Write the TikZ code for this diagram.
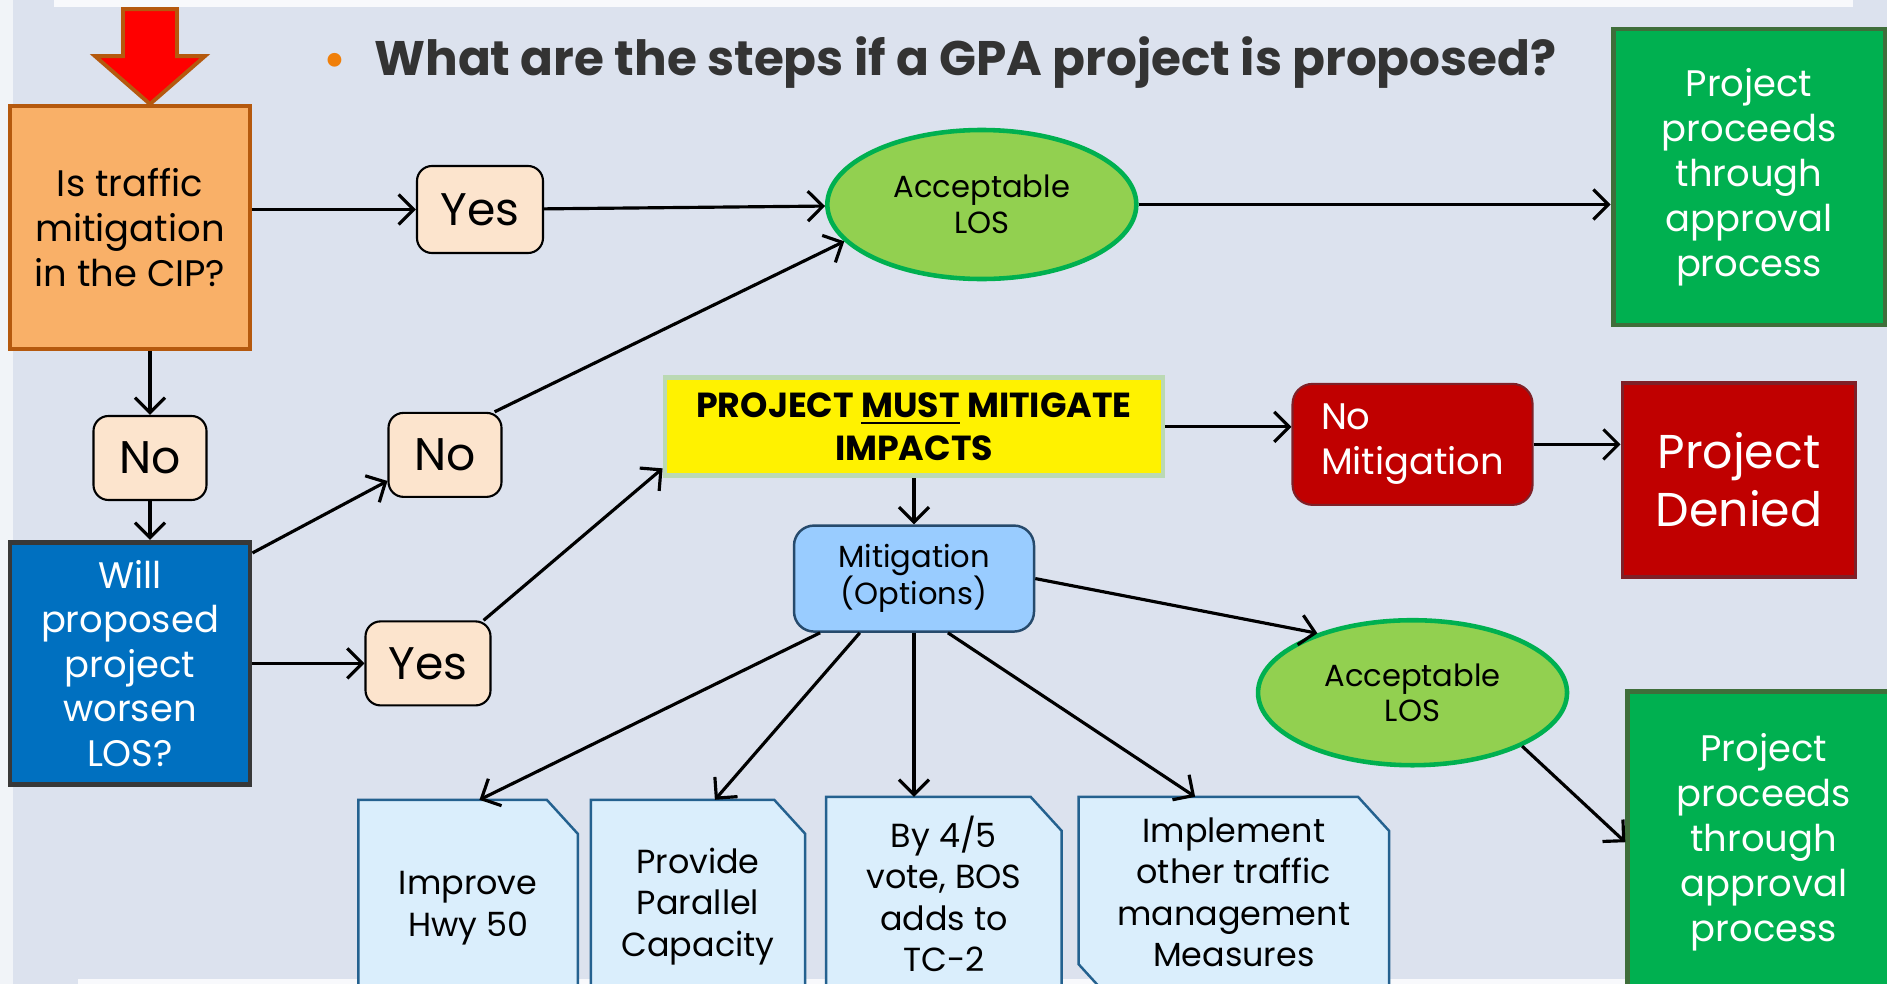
\documentclass[tikz,border=0pt]{standalone}
\usepackage{fontspec}
\setmainfont{Poppins}
\usetikzlibrary{arrows.meta,shapes.geometric,positioning,calc,backgrounds}
\definecolor{slidecolor}{RGB}{220,226,238}
\definecolor{askcolor}{RGB}{249,176,104}
\definecolor{askdraw}{RGB}{181,89,14}
\definecolor{answercolor}{RGB}{252,228,205}
\definecolor{loscolor}{RGB}{146,208,80}
\definecolor{losdraw}{RGB}{0,176,80}
\definecolor{gocolor}{RGB}{0,176,80}
\definecolor{godraw}{RGB}{63,110,58}
\definecolor{worsencolor}{RGB}{0,112,192}
\definecolor{worsendraw}{RGB}{56,56,56}
\definecolor{stopcolor}{RGB}{192,0,0}
\definecolor{stopdraw}{RGB}{127,32,39}
\definecolor{mustdraw}{RGB}{187,217,179}
\definecolor{optioncolor}{RGB}{153,204,255}
\definecolor{optiondraw}{RGB}{38,74,108}
\definecolor{measurecolor}{RGB}{218,238,252}
\definecolor{measuredraw}{RGB}{36,97,143}
\definecolor{titlecolor}{RGB}{51,51,51}
\definecolor{bulletcolor}{RGB}{240,127,9}

\begin{document}
\begin{tikzpicture}[
    node distance=1cm,
    askbox/.style={rectangle, draw=askdraw, fill=askcolor, line width=1.1pt, minimum width=2.4cm, minimum height=2.43cm, align=center, font=\fontsize{10.5}{12.7}\selectfont},
    worsenbox/.style={rectangle, draw=worsendraw, fill=worsencolor, line width=1.4pt, text=white, minimum width=2.4cm, minimum height=2.42cm, align=center, font=\fontsize{10.5}{12.7}\selectfont},
    answer/.style={rectangle, rounded corners=0.15cm, draw=black, fill=answercolor, line width=0.6pt, minimum width=1.13cm, minimum height=0.84cm, font=\fontsize{13}{15}\selectfont},
    los/.style={ellipse, draw=losdraw, fill=loscolor, line width=1.3pt, minimum width=3.09cm, minimum height=1.49cm, align=center, font=\fontsize{8.7}{10.2}\selectfont},
    proceed/.style={rectangle, draw=godraw, fill=gocolor, line width=1.4pt, text=white, minimum width=2.72cm, minimum height=2.96cm, align=center, font=\fontsize{10.5}{12.8}\selectfont},
    mustbox/.style={rectangle, draw=mustdraw, fill=yellow, line width=1.4pt, minimum width=4.98cm, minimum height=0.98cm, align=center, font=\fontsize{9.9}{12.2}\selectfont\bfseries},
    nomitbox/.style={rectangle, rounded corners=0.2cm, draw=stopdraw, fill=stopcolor, line width=0.6pt, text=white, minimum width=2.4cm, minimum height=1.21cm, align=left, font=\fontsize{10.5}{12.7}\selectfont},
    deniedbox/.style={rectangle, draw=stopdraw, fill=stopcolor, line width=1.1pt, text=white, minimum width=2.33cm, minimum height=1.94cm, align=center, font=\fontsize{13.5}{16.5}\selectfont},
    optionbox/.style={rectangle, rounded corners=0.2cm, draw=optiondraw, fill=optioncolor, line width=0.7pt, minimum width=2.4cm, minimum height=1.06cm, align=center, font=\fontsize{8.7}{10.5}\selectfont},
    measure/.style={rectangle, align=center, font=\fontsize{9.5}{11.8}\selectfont},
    measureline/.style={draw=measuredraw, fill=measurecolor, line width=0.7pt},
    downarrow/.style={fill=red, draw=askdraw, line width=1.1pt, line join=miter},
    edge/.style={-{Straight Barb[length=1.5mm,width=3mm]}, line width=0.9pt}
]
    \useasboundingbox (0,0) rectangle (18.87,-9.84);

    \node[anchor=west, text=titlecolor, font=\fontsize{13.8}{17}\selectfont\bfseries] (title) at (3.11,-0.63)
        {\textcolor{bulletcolor}{\fontsize{13}{13}\selectfont •}\hspace{0.28cm}What are the steps if a GPA project is proposed?};

    % Nodes
    \node[askbox] (cip) at (1.30,-2.275) {Is traffic\\mitigation\\in the CIP?};
    \node[answer, below=0.64cm of cip, xshift=0.2cm] (no1) {No};
    \node[worsenbox, below=1.89cm of cip] (worsen) {Will\\proposed\\project\\worsen\\LOS?};
    \node[answer, right=1.64cm of cip, yshift=0.18cm, minimum width=1.26cm, minimum height=0.87cm] (yes1) {Yes};
    \node[los, right=2.81cm of yes1, yshift=0.05cm] (acc1) {Acceptable\\LOS};
    \node[proceed, right=4.72cm of acc1, yshift=0.275cm] (go1) {Project\\proceeds\\through\\approval\\process};
    \node[answer, above right=0.42cm and 1.35cm of worsen] (no2) {No};
    \node[answer, right=1.12cm of worsen, minimum width=1.25cm] (yes2) {Yes};
    \node[mustbox, above right=1.42cm and 1.71cm of yes2] (must) {PROJECT \underline{MUST} MITIGATE\\IMPACTS};
    \node[optionbox, below=0.46cm of must] (options) {Mitigation\\(Options)};
    \node[nomitbox, right=1.26cm of must, yshift=-0.175cm] (nomit) {No\\Mitigation};
    \node[deniedbox, right=0.87cm of nomit, yshift=-0.355cm] (denied) {Project\\Denied};
    \node[los, below=1.12cm of nomit, minimum height=1.45cm] (acc2) {Acceptable\\LOS};
    \node[proceed, right=0.56cm of acc2, yshift=-1.495cm, minimum height=3.02cm] (go2) {Project\\proceeds\\through\\approval\\process};

    \node[measure, below left=1.67cm and 2.15cm of options, minimum width=2.18cm, minimum height=2.15cm] (hwy) {Improve\\Hwy 50};
    \node[measure, right=0.13cm of hwy.north east, anchor=north west, minimum width=2.13cm, minimum height=2.12cm] (parallel) {Provide\\Parallel\\Capacity};
    \node[measure, right=0.21cm of parallel.north east, anchor=north west, yshift=0.03cm, minimum width=2.34cm, minimum height=1.93cm] (vote) {By 4/5\\vote, BOS\\adds to\\TC-2};
    \node[measure, right=0.17cm of vote.north east, anchor=north west, minimum width=3.09cm, minimum height=1.9cm] (other) {Implement\\other traffic\\management\\Measures};

    % Slide and snipped sheets, behind the nodes
    \begin{scope}[on background layer]
        \fill[slidecolor] (0,0) rectangle (18.87,-9.84);
        \fill[white!60!slidecolor] (0,0) rectangle (0.13,-9.84);
        \fill[white!80!slidecolor] (0.54,0) rectangle (18.53,-0.07);
        \fill[white!80!slidecolor] (0.78,-9.79) rectangle (18.87,-9.84);
        \foreach \sheet in {hwy,parallel,vote}
            \filldraw[measureline] (\sheet.north west) -- ([xshift=-0.31cm]\sheet.north east)
                -- ([yshift=-0.34cm]\sheet.north east) -- (\sheet.south east) -- (\sheet.south west) -- cycle;
        \filldraw[measureline] (other.north west) -- ([xshift=-0.31cm]other.north east)
            -- ([yshift=-0.34cm]other.north east) -- ([yshift=-0.1cm]other.south east)
            -- ([xshift=0.31cm, yshift=-0.1cm]other.south west) -- ([yshift=0.24cm]other.south west) -- cycle;
    \end{scope}

    % Entry arrow
    \filldraw[downarrow] ([xshift=0.2cm]cip.north) -- ++(0.55,0.48) -- ++(-0.28,0) -- ++(0,0.47)
        -- ++(-0.54,0) -- ++(0,-0.47) -- ++(-0.28,0) -- cycle;

    % Edges
    \draw[edge] (cip.south -| no1) -- (no1);
    \draw[edge] (no1) -- (no1 |- worsen.north);
    \draw[edge] (cip.east |- yes1) -- (yes1);
    \draw[edge] (yes1) -- (acc1);
    \draw[edge] (acc1) -- (acc1 -| go1.west);
    \draw[edge] ([yshift=-0.13cm]worsen.north east) -- ([yshift=0.17cm]no2.south west);
    \draw[edge] ([xshift=-0.08cm]no2.north east) -- (acc1.195);
    \draw[edge] (worsen) -- (yes2);
    \draw[edge] ([xshift=-0.08cm]yes2.north east) -- ([yshift=0.1cm]must.south west);
    \draw[edge] (must.south -| options) -- (options);
    \draw[edge] (must.east) -- (must.east -| nomit.west);
    \draw[edge] (nomit) -- (nomit -| denied.west);
    \draw[edge] (options.east) -- (acc2.148);
    \draw[edge] (acc2.334) -- (go2.west);
    \draw[edge] (options.210) -- (hwy.84);
    \draw[edge] (options.225) -- (parallel.81);
    \draw[edge] (options.south) -- (options.south |- vote.north);
    \draw[edge] (options.302) -- (other.112);
\end{tikzpicture}
\end{document}
